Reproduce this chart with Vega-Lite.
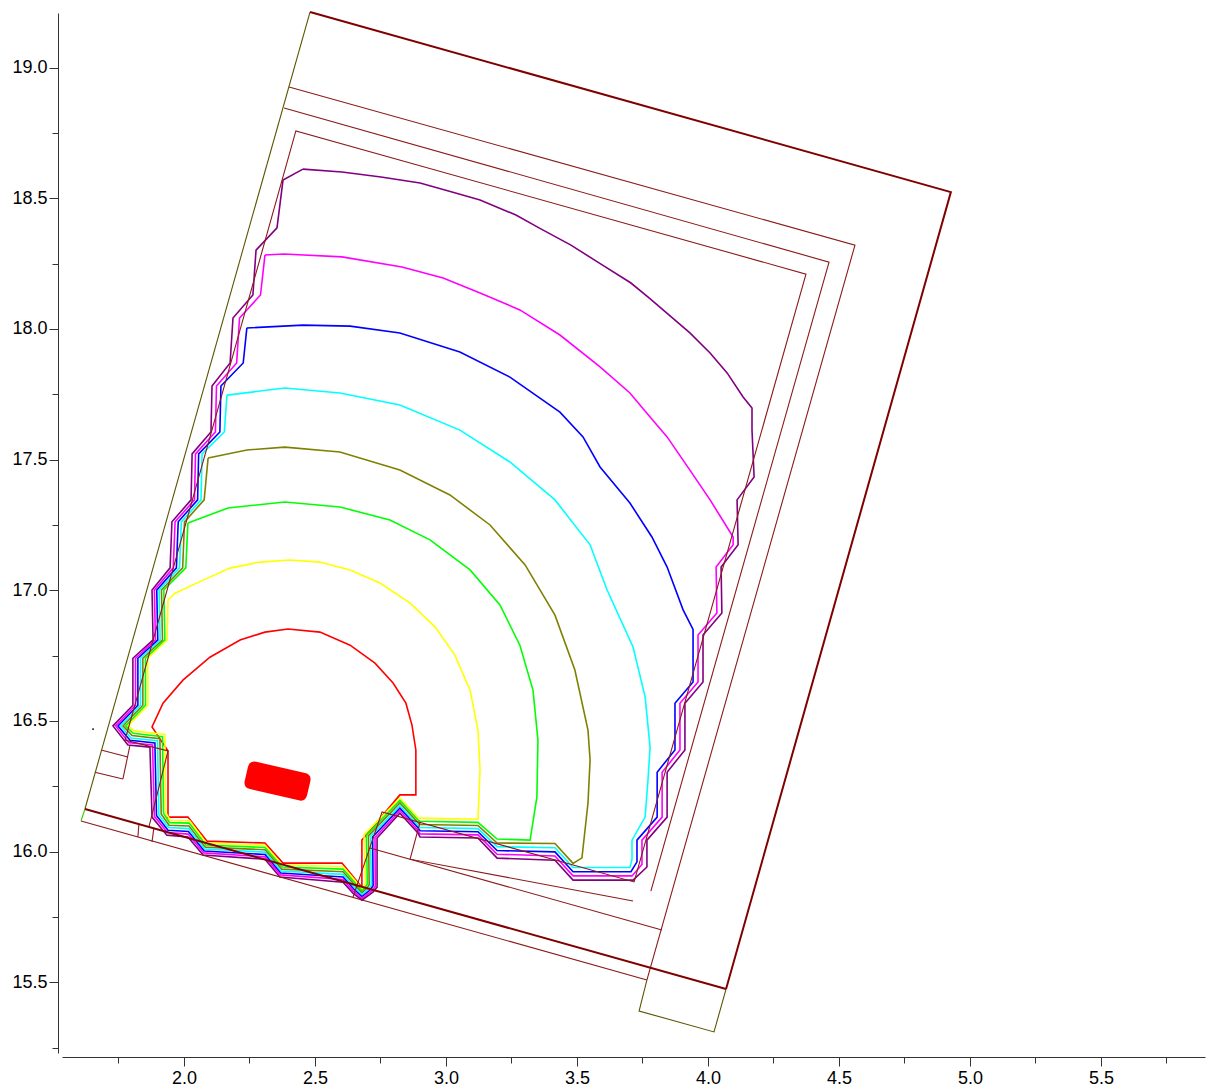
{
  "$schema": "https://vega.github.io/schema/vega-lite/v6.json",
  "width": 1143,
  "height": 1040,
  "autosize": "none",
  "padding": {"left": 62, "top": 13, "right": 5, "bottom": 37},
  "background": "white",
  "config": {
    "view": {"stroke": null},
    "axis": {"grid": false, "title": null, "domainColor": "#333333", "tickColor": "#333333", "labelColor": "#000000", "labelFont": "Liberation Sans", "labelFontSize": 18, "domainWidth": 1, "tickWidth": 1}
  },
  "datasets": {
    "contours": [
      {"c":"red","x":2.679,"y":15.864},{"c":"red","x":2.603,"y":15.956},{"c":"red","x":2.378,"y":15.956},{"c":"red","x":2.309,"y":16.033},{"c":"red","x":2.088,"y":16.040},{"c":"red","x":2.015,"y":16.132},{"c":"red","x":1.939,"y":16.132},{"c":"red","x":1.939,"y":16.385},{"c":"red","x":1.878,"y":16.477},{"c":"red","x":1.920,"y":16.568},{"c":"red","x":1.996,"y":16.656},{"c":"red","x":2.099,"y":16.744},{"c":"red","x":2.214,"y":16.810},{"c":"red","x":2.309,"y":16.840},{"c":"red","x":2.397,"y":16.852},{"c":"red","x":2.519,"y":16.840},{"c":"red","x":2.634,"y":16.790},{"c":"red","x":2.729,"y":16.721},{"c":"red","x":2.798,"y":16.645},{"c":"red","x":2.847,"y":16.568},{"c":"red","x":2.870,"y":16.485},{"c":"red","x":2.885,"y":16.389},{"c":"red","x":2.885,"y":16.217},{"c":"red","x":2.824,"y":16.217},{"c":"red","x":2.679,"y":16.044},{"c":"red","x":2.679,"y":15.864},

      {"c":"yellow","x":2.073,"y":17.039},{"c":"yellow","x":1.966,"y":16.989},{"c":"yellow","x":1.939,"y":16.963},{"c":"yellow","x":1.936,"y":16.810},{"c":"yellow","x":1.862,"y":16.740},{"c":"yellow","x":1.862,"y":16.560},{"c":"yellow","x":1.786,"y":16.481},{"c":"yellow","x":1.810,"y":16.462},{"c":"yellow","x":1.927,"y":16.448},{"c":"yellow","x":1.930,"y":16.150},{"c":"yellow","x":1.947,"y":16.120},{"c":"yellow","x":2.021,"y":16.119},{"c":"yellow","x":2.085,"y":16.033},{"c":"yellow","x":2.309,"y":16.024},{"c":"yellow","x":2.376,"y":15.949},{"c":"yellow","x":2.607,"y":15.943},{"c":"yellow","x":2.651,"y":15.892},{"c":"yellow","x":2.679,"y":15.857},{"c":"yellow","x":2.685,"y":15.867},{"c":"yellow","x":2.693,"y":15.878},{"c":"yellow","x":2.687,"y":16.064},{"c":"yellow","x":2.824,"y":16.205},{"c":"yellow","x":2.893,"y":16.131},{"c":"yellow","x":2.901,"y":16.128},{"c":"yellow","x":3.122,"y":16.124},{"c":"yellow","x":3.130,"y":16.312},{"c":"yellow","x":3.122,"y":16.465},{"c":"yellow","x":3.092,"y":16.618},{"c":"yellow","x":3.034,"y":16.752},{"c":"yellow","x":2.958,"y":16.860},{"c":"yellow","x":2.863,"y":16.951},{"c":"yellow","x":2.748,"y":17.028},{"c":"yellow","x":2.634,"y":17.078},{"c":"yellow","x":2.519,"y":17.108},{"c":"yellow","x":2.405,"y":17.116},{"c":"yellow","x":2.290,"y":17.108},{"c":"yellow","x":2.176,"y":17.085},{"c":"yellow","x":2.073,"y":17.039},

      {"c":"green","x":2.015,"y":17.258},{"c":"green","x":2.007,"y":17.086},{"c":"green","x":1.923,"y":17.001},{"c":"green","x":1.927,"y":16.810},{"c":"green","x":1.853,"y":16.740},{"c":"green","x":1.853,"y":16.560},{"c":"green","x":1.777,"y":16.481},{"c":"green","x":1.806,"y":16.453},{"c":"green","x":1.918,"y":16.440},{"c":"green","x":1.922,"y":16.147},{"c":"green","x":1.945,"y":16.111},{"c":"green","x":2.020,"y":16.109},{"c":"green","x":2.083,"y":16.025},{"c":"green","x":2.309,"y":16.016},{"c":"green","x":2.375,"y":15.941},{"c":"green","x":2.607,"y":15.933},{"c":"green","x":2.650,"y":15.884},{"c":"green","x":2.679,"y":15.850},{"c":"green","x":2.691,"y":15.863},{"c":"green","x":2.700,"y":15.876},{"c":"green","x":2.696,"y":16.062},{"c":"green","x":2.824,"y":16.196},{"c":"green","x":2.893,"y":16.121},{"c":"green","x":2.901,"y":16.116},{"c":"green","x":3.122,"y":16.112},{"c":"green","x":3.195,"y":16.048},{"c":"green","x":3.321,"y":16.044},{"c":"green","x":3.347,"y":16.209},{"c":"green","x":3.351,"y":16.427},{"c":"green","x":3.332,"y":16.618},{"c":"green","x":3.282,"y":16.790},{"c":"green","x":3.206,"y":16.944},{"c":"green","x":3.092,"y":17.078},{"c":"green","x":2.939,"y":17.193},{"c":"green","x":2.786,"y":17.269},{"c":"green","x":2.595,"y":17.319},{"c":"green","x":2.385,"y":17.338},{"c":"green","x":2.168,"y":17.315},{"c":"green","x":2.015,"y":17.258},

      {"c":"olive","x":2.092,"y":17.506},{"c":"olive","x":2.077,"y":17.346},{"c":"olive","x":2.002,"y":17.262},{"c":"olive","x":1.995,"y":17.086},{"c":"olive","x":1.914,"y":17.001},{"c":"olive","x":1.918,"y":16.810},{"c":"olive","x":1.843,"y":16.740},{"c":"olive","x":1.843,"y":16.560},{"c":"olive","x":1.767,"y":16.481},{"c":"olive","x":1.802,"y":16.444},{"c":"olive","x":1.908,"y":16.432},{"c":"olive","x":1.913,"y":16.144},{"c":"olive","x":1.943,"y":16.101},{"c":"olive","x":2.019,"y":16.098},{"c":"olive","x":2.081,"y":16.017},{"c":"olive","x":2.309,"y":16.007},{"c":"olive","x":2.373,"y":15.933},{"c":"olive","x":2.607,"y":15.923},{"c":"olive","x":2.649,"y":15.875},{"c":"olive","x":2.679,"y":15.842},{"c":"olive","x":2.697,"y":15.859},{"c":"olive","x":2.707,"y":15.873},{"c":"olive","x":2.704,"y":16.060},{"c":"olive","x":2.824,"y":16.186},{"c":"olive","x":2.893,"y":16.111},{"c":"olive","x":2.901,"y":16.104},{"c":"olive","x":3.122,"y":16.100},{"c":"olive","x":3.195,"y":16.033},{"c":"olive","x":3.416,"y":16.031},{"c":"olive","x":3.485,"y":15.955},{"c":"olive","x":3.519,"y":15.976},{"c":"olive","x":3.542,"y":16.186},{"c":"olive","x":3.550,"y":16.351},{"c":"olive","x":3.542,"y":16.465},{"c":"olive","x":3.492,"y":16.695},{"c":"olive","x":3.416,"y":16.905},{"c":"olive","x":3.302,"y":17.097},{"c":"olive","x":3.168,"y":17.250},{"c":"olive","x":3.015,"y":17.365},{"c":"olive","x":2.824,"y":17.460},{"c":"olive","x":2.595,"y":17.529},{"c":"olive","x":2.385,"y":17.548},{"c":"olive","x":2.240,"y":17.537},{"c":"olive","x":2.092,"y":17.506},

      {"c":"cyan","x":2.164,"y":17.747},{"c":"cyan","x":2.154,"y":17.606},{"c":"cyan","x":2.069,"y":17.522},{"c":"cyan","x":2.065,"y":17.346},{"c":"cyan","x":1.990,"y":17.262},{"c":"cyan","x":1.983,"y":17.086},{"c":"cyan","x":1.905,"y":17.001},{"c":"cyan","x":1.909,"y":16.810},{"c":"cyan","x":1.834,"y":16.740},{"c":"cyan","x":1.834,"y":16.560},{"c":"cyan","x":1.758,"y":16.481},{"c":"cyan","x":1.798,"y":16.435},{"c":"cyan","x":1.899,"y":16.424},{"c":"cyan","x":1.904,"y":16.141},{"c":"cyan","x":1.941,"y":16.092},{"c":"cyan","x":2.018,"y":16.088},{"c":"cyan","x":2.079,"y":16.010},{"c":"cyan","x":2.309,"y":15.998},{"c":"cyan","x":2.371,"y":15.926},{"c":"cyan","x":2.607,"y":15.913},{"c":"cyan","x":2.648,"y":15.867},{"c":"cyan","x":2.679,"y":15.835},{"c":"cyan","x":2.703,"y":15.856},{"c":"cyan","x":2.715,"y":15.871},{"c":"cyan","x":2.712,"y":16.058},{"c":"cyan","x":2.824,"y":16.176},{"c":"cyan","x":2.893,"y":16.101},{"c":"cyan","x":2.901,"y":16.092},{"c":"cyan","x":3.122,"y":16.088},{"c":"cyan","x":3.195,"y":16.019},{"c":"cyan","x":3.416,"y":16.015},{"c":"cyan","x":3.485,"y":15.939},{"c":"cyan","x":3.702,"y":15.939},{"c":"cyan","x":3.710,"y":15.971},{"c":"cyan","x":3.710,"y":16.044},{"c":"cyan","x":3.760,"y":16.132},{"c":"cyan","x":3.771,"y":16.274},{"c":"cyan","x":3.779,"y":16.400},{"c":"cyan","x":3.760,"y":16.592},{"c":"cyan","x":3.714,"y":16.783},{"c":"cyan","x":3.615,"y":17.001},{"c":"cyan","x":3.550,"y":17.174},{"c":"cyan","x":3.416,"y":17.346},{"c":"cyan","x":3.244,"y":17.491},{"c":"cyan","x":3.053,"y":17.613},{"c":"cyan","x":2.824,"y":17.709},{"c":"cyan","x":2.595,"y":17.755},{"c":"cyan","x":2.385,"y":17.774},{"c":"cyan","x":2.164,"y":17.747},

      {"c":"blue","x":2.240,"y":18.004},{"c":"blue","x":2.226,"y":17.870},{"c":"blue","x":2.141,"y":17.782},{"c":"blue","x":2.137,"y":17.606},{"c":"blue","x":2.056,"y":17.522},{"c":"blue","x":2.052,"y":17.346},{"c":"blue","x":1.978,"y":17.262},{"c":"blue","x":1.971,"y":17.086},{"c":"blue","x":1.896,"y":17.001},{"c":"blue","x":1.900,"y":16.810},{"c":"blue","x":1.824,"y":16.740},{"c":"blue","x":1.824,"y":16.560},{"c":"blue","x":1.748,"y":16.481},{"c":"blue","x":1.794,"y":16.426},{"c":"blue","x":1.889,"y":16.416},{"c":"blue","x":1.895,"y":16.138},{"c":"blue","x":1.939,"y":16.082},{"c":"blue","x":2.017,"y":16.077},{"c":"blue","x":2.077,"y":16.002},{"c":"blue","x":2.309,"y":15.989},{"c":"blue","x":2.369,"y":15.918},{"c":"blue","x":2.607,"y":15.903},{"c":"blue","x":2.647,"y":15.858},{"c":"blue","x":2.679,"y":15.828},{"c":"blue","x":2.709,"y":15.852},{"c":"blue","x":2.722,"y":15.869},{"c":"blue","x":2.720,"y":16.056},{"c":"blue","x":2.824,"y":16.166},{"c":"blue","x":2.893,"y":16.091},{"c":"blue","x":2.901,"y":16.080},{"c":"blue","x":3.122,"y":16.076},{"c":"blue","x":3.195,"y":16.004},{"c":"blue","x":3.416,"y":15.999},{"c":"blue","x":3.485,"y":15.923},{"c":"blue","x":3.706,"y":15.923},{"c":"blue","x":3.729,"y":15.961},{"c":"blue","x":3.729,"y":16.044},{"c":"blue","x":3.806,"y":16.132},{"c":"blue","x":3.806,"y":16.304},{"c":"blue","x":3.874,"y":16.389},{"c":"blue","x":3.874,"y":16.568},{"c":"blue","x":3.943,"y":16.649},{"c":"blue","x":3.943,"y":16.850},{"c":"blue","x":3.905,"y":16.925},{"c":"blue","x":3.844,"y":17.089},{"c":"blue","x":3.786,"y":17.204},{"c":"blue","x":3.702,"y":17.334},{"c":"blue","x":3.588,"y":17.472},{"c":"blue","x":3.523,"y":17.587},{"c":"blue","x":3.435,"y":17.682},{"c":"blue","x":3.244,"y":17.816},{"c":"blue","x":3.053,"y":17.912},{"c":"blue","x":2.824,"y":17.985},{"c":"blue","x":2.634,"y":18.011},{"c":"blue","x":2.454,"y":18.015},{"c":"blue","x":2.240,"y":18.004},

      {"c":"magenta","x":2.309,"y":18.283},{"c":"magenta","x":2.292,"y":18.130},{"c":"magenta","x":2.212,"y":18.042},{"c":"magenta","x":2.201,"y":17.870},{"c":"magenta","x":2.124,"y":17.782},{"c":"magenta","x":2.120,"y":17.606},{"c":"magenta","x":2.044,"y":17.522},{"c":"magenta","x":2.040,"y":17.346},{"c":"magenta","x":1.966,"y":17.262},{"c":"magenta","x":1.959,"y":17.086},{"c":"magenta","x":1.887,"y":17.001},{"c":"magenta","x":1.891,"y":16.810},{"c":"magenta","x":1.815,"y":16.740},{"c":"magenta","x":1.815,"y":16.560},{"c":"magenta","x":1.739,"y":16.481},{"c":"magenta","x":1.790,"y":16.417},{"c":"magenta","x":1.880,"y":16.408},{"c":"magenta","x":1.887,"y":16.135},{"c":"magenta","x":1.937,"y":16.073},{"c":"magenta","x":2.016,"y":16.067},{"c":"magenta","x":2.075,"y":15.995},{"c":"magenta","x":2.309,"y":15.980},{"c":"magenta","x":2.368,"y":15.911},{"c":"magenta","x":2.607,"y":15.893},{"c":"magenta","x":2.646,"y":15.850},{"c":"magenta","x":2.679,"y":15.821},{"c":"magenta","x":2.715,"y":15.849},{"c":"magenta","x":2.730,"y":15.866},{"c":"magenta","x":2.729,"y":16.054},{"c":"magenta","x":2.824,"y":16.157},{"c":"magenta","x":2.893,"y":16.081},{"c":"magenta","x":2.901,"y":16.068},{"c":"magenta","x":3.122,"y":16.064},{"c":"magenta","x":3.195,"y":15.990},{"c":"magenta","x":3.416,"y":15.983},{"c":"magenta","x":3.485,"y":15.907},{"c":"magenta","x":3.710,"y":15.907},{"c":"magenta","x":3.748,"y":15.951},{"c":"magenta","x":3.748,"y":16.044},{"c":"magenta","x":3.825,"y":16.132},{"c":"magenta","x":3.825,"y":16.304},{"c":"magenta","x":3.893,"y":16.389},{"c":"magenta","x":3.893,"y":16.568},{"c":"magenta","x":3.962,"y":16.649},{"c":"magenta","x":3.962,"y":16.829},{"c":"magenta","x":4.034,"y":16.913},{"c":"magenta","x":4.031,"y":17.089},{"c":"magenta","x":4.096,"y":17.174},{"c":"magenta","x":4.096,"y":17.204},{"c":"magenta","x":4.008,"y":17.346},{"c":"magenta","x":3.931,"y":17.460},{"c":"magenta","x":3.844,"y":17.587},{"c":"magenta","x":3.779,"y":17.663},{"c":"magenta","x":3.702,"y":17.755},{"c":"magenta","x":3.588,"y":17.855},{"c":"magenta","x":3.435,"y":17.977},{"c":"magenta","x":3.282,"y":18.073},{"c":"magenta","x":3.130,"y":18.138},{"c":"magenta","x":2.989,"y":18.195},{"c":"magenta","x":2.832,"y":18.237},{"c":"magenta","x":2.603,"y":18.276},{"c":"magenta","x":2.382,"y":18.287},{"c":"magenta","x":2.309,"y":18.283},

      {"c":"purple","x":2.454,"y":18.612},{"c":"purple","x":2.378,"y":18.570},{"c":"purple","x":2.355,"y":18.387},{"c":"purple","x":2.275,"y":18.302},{"c":"purple","x":2.263,"y":18.130},{"c":"purple","x":2.187,"y":18.042},{"c":"purple","x":2.176,"y":17.870},{"c":"purple","x":2.107,"y":17.782},{"c":"purple","x":2.103,"y":17.606},{"c":"purple","x":2.031,"y":17.522},{"c":"purple","x":2.027,"y":17.346},{"c":"purple","x":1.954,"y":17.262},{"c":"purple","x":1.947,"y":17.086},{"c":"purple","x":1.878,"y":17.001},{"c":"purple","x":1.882,"y":16.810},{"c":"purple","x":1.805,"y":16.740},{"c":"purple","x":1.805,"y":16.560},{"c":"purple","x":1.729,"y":16.481},{"c":"purple","x":1.786,"y":16.408},{"c":"purple","x":1.870,"y":16.400},{"c":"purple","x":1.878,"y":16.132},{"c":"purple","x":1.935,"y":16.063},{"c":"purple","x":2.015,"y":16.056},{"c":"purple","x":2.073,"y":15.987},{"c":"purple","x":2.309,"y":15.971},{"c":"purple","x":2.366,"y":15.903},{"c":"purple","x":2.607,"y":15.883},{"c":"purple","x":2.645,"y":15.841},{"c":"purple","x":2.679,"y":15.814},{"c":"purple","x":2.721,"y":15.845},{"c":"purple","x":2.737,"y":15.864},{"c":"purple","x":2.737,"y":16.052},{"c":"purple","x":2.824,"y":16.147},{"c":"purple","x":2.893,"y":16.071},{"c":"purple","x":2.901,"y":16.056},{"c":"purple","x":3.122,"y":16.052},{"c":"purple","x":3.195,"y":15.975},{"c":"purple","x":3.416,"y":15.967},{"c":"purple","x":3.485,"y":15.891},{"c":"purple","x":3.714,"y":15.891},{"c":"purple","x":3.767,"y":15.941},{"c":"purple","x":3.767,"y":16.044},{"c":"purple","x":3.844,"y":16.132},{"c":"purple","x":3.844,"y":16.304},{"c":"purple","x":3.912,"y":16.389},{"c":"purple","x":3.912,"y":16.568},{"c":"purple","x":3.981,"y":16.649},{"c":"purple","x":3.981,"y":16.829},{"c":"purple","x":4.053,"y":16.913},{"c":"purple","x":4.050,"y":17.089},{"c":"purple","x":4.115,"y":17.174},{"c":"purple","x":4.111,"y":17.346},{"c":"purple","x":4.176,"y":17.434},{"c":"purple","x":4.168,"y":17.613},{"c":"purple","x":4.168,"y":17.698},{"c":"purple","x":4.134,"y":17.740},{"c":"purple","x":4.073,"y":17.832},{"c":"purple","x":4.008,"y":17.908},{"c":"purple","x":3.931,"y":17.985},{"c":"purple","x":3.775,"y":18.119},{"c":"purple","x":3.706,"y":18.176},{"c":"purple","x":3.584,"y":18.253},{"c":"purple","x":3.477,"y":18.321},{"c":"purple","x":3.355,"y":18.387},{"c":"purple","x":3.267,"y":18.436},{"c":"purple","x":3.130,"y":18.494},{"c":"purple","x":3.023,"y":18.524},{"c":"purple","x":2.901,"y":18.559},{"c":"purple","x":2.752,"y":18.582},{"c":"purple","x":2.603,"y":18.601},{"c":"purple","x":2.454,"y":18.612}
    ],
    "thin": [
      {"g":"L1","x":2.401,"y":18.926},{"g":"L1","x":4.561,"y":18.321},{"g":"L1","x":3.767,"y":15.509},
      {"g":"L2","x":2.382,"y":18.846},{"g":"L2","x":4.462,"y":18.256},{"g":"L2","x":3.782,"y":15.849},
      {"g":"L3","x":1.866,"y":16.094},{"g":"L3","x":1.939,"y":16.385},{"g":"L3","x":1.775,"y":16.427},{"g":"L3","x":2.427,"y":18.758},{"g":"L3","x":4.374,"y":18.210},{"g":"L3","x":3.718,"y":15.884},{"g":"L3","x":2.756,"y":16.152},{"g":"L3","x":2.645,"y":15.826},
      {"g":"Hc","x":2.710,"y":16.014},{"g":"Hc","x":3.824,"y":15.700},
      {"g":"Hb","x":2.901,"y":16.113},{"g":"Hb","x":2.863,"y":15.971},{"g":"Hb","x":3.714,"y":15.811},
      {"g":"b1","x":1.683,"y":16.389},{"g":"b1","x":1.786,"y":16.362},
      {"g":"b2","x":1.660,"y":16.304},{"g":"b2","x":1.767,"y":16.278},
      {"g":"b3","x":1.794,"y":16.408},{"g":"b3","x":1.767,"y":16.278},
      {"g":"d1","x":1.828,"y":16.106},{"g":"d1","x":1.824,"y":16.056},
      {"g":"d2","x":1.885,"y":16.090},{"g":"d2","x":1.878,"y":16.037},
      {"g":"thinwall","x":1.607,"y":16.117},{"g":"thinwall","x":3.767,"y":15.509}
    ],
    "thick": [
      {"g":"outer","x":2.481,"y":19.213},{"g":"outer","x":4.927,"y":18.524},{"g":"outer","x":4.069,"y":15.474},
      {"g":"bot","x":1.622,"y":16.163},{"g":"bot","x":4.069,"y":15.474}
    ],
    "olive": [
      {"g":"left","x":1.622,"y":16.163},{"g":"left","x":2.481,"y":19.213},
      {"g":"box","x":3.767,"y":15.509},{"g":"box","x":3.737,"y":15.390},{"g":"box","x":4.023,"y":15.310},{"g":"box","x":4.069,"y":15.474}
    ],
    "greenedge": [
      {"g":"ge","x":1.607,"y":16.117},{"g":"ge","x":1.622,"y":16.163}
    ]
  },
  "layer": [
    {
      "data": {"name": "contours"},
      "mark": {"type": "line", "strokeWidth": 1.6},
      "encoding": {
        "x": {"field": "x", "type": "quantitative",
          "scale": {"domain": [1.5344, 5.897], "nice": false, "zero": false},
          "axis": {
            "values": [1.75, 2, 2.25, 2.5, 2.75, 3, 3.25, 3.5, 3.75, 4, 4.25, 4.5, 4.75, 5, 5.25, 5.5, 5.75],
            "labelExpr": "abs(datum.value*2-round(datum.value*2))<0.001 ? format(datum.value,'.1f') : ''",
            "tickSize": {"condition": {"test": "abs(datum.value*2-round(datum.value*2))<0.001", "value": 9}, "value": 6},
            "offset": 4, "labelPadding": 3, "labelOverlap": false, "labelFlush": false
          }},
        "y": {"field": "y", "type": "quantitative",
          "scale": {"domain": [15.2293, 19.2093], "nice": false, "zero": false},
          "axis": {
            "values": [15.25, 15.5, 15.75, 16, 16.25, 16.5, 16.75, 17, 17.25, 17.5, 17.75, 18, 18.25, 18.5, 18.75, 19],
            "labelExpr": "abs(datum.value*2-round(datum.value*2))<0.001 ? format(datum.value,'.1f') : ''",
            "tickSize": {"condition": {"test": "abs(datum.value*2-round(datum.value*2))<0.001", "value": 9}, "value": 6},
            "offset": 4, "labelPadding": 2, "labelOverlap": false, "labelFlush": false
          }},
        "color": {"field": "c", "type": "nominal",
          "scale": {"domain": ["red", "yellow", "green", "olive", "cyan", "blue", "magenta", "purple"],
                    "range": ["#ff0000", "#ffff00", "#00ff00", "#808000", "#00ffff", "#0000ff", "#ff00ff", "#800080"]},
          "legend": null},
        "detail": {"field": "c"},
        "order": {"value": null}
      }
    },
    {
      "data": {"name": "thin"},
      "mark": {"type": "line", "strokeWidth": 1.1, "color": "#8b1a1a"},
      "encoding": {
        "x": {"field": "x", "type": "quantitative"},
        "y": {"field": "y", "type": "quantitative"},
        "detail": {"field": "g"},
        "order": {"value": null}
      }
    },
    {
      "data": {"name": "olive"},
      "mark": {"type": "line", "strokeWidth": 1.1, "color": "#5c5400"},
      "encoding": {
        "x": {"field": "x", "type": "quantitative"},
        "y": {"field": "y", "type": "quantitative"},
        "detail": {"field": "g"},
        "order": {"value": null}
      }
    },
    {
      "data": {"name": "greenedge"},
      "mark": {"type": "line", "strokeWidth": 1.1, "color": "#33cc00"},
      "encoding": {
        "x": {"field": "x", "type": "quantitative"},
        "y": {"field": "y", "type": "quantitative"},
        "detail": {"field": "g"},
        "order": {"value": null}
      }
    },
    {
      "data": {"name": "thick"},
      "mark": {"type": "line", "strokeWidth": 2, "color": "#800000"},
      "encoding": {
        "x": {"field": "x", "type": "quantitative"},
        "y": {"field": "y", "type": "quantitative"},
        "detail": {"field": "g"},
        "order": {"value": null}
      }
    },
    {
      "data": {"values": [{"x": 1.653, "y": 16.469}]},
      "mark": {"type": "square", "size": 3, "color": "#333333", "opacity": 1},
      "encoding": {
        "x": {"field": "x", "type": "quantitative"},
        "y": {"field": "y", "type": "quantitative"}
      }
    },
    {
      "data": {"values": [{"x": 2.357, "y": 16.270}]},
      "mark": {"type": "point", "shape": "M -0.606,-0.551 L 0.786,-0.229 Q 0.981,-0.184 0.936,0.011 L 0.846,0.401 Q 0.801,0.595 0.606,0.551 L -0.786,0.229 Q -0.981,0.184 -0.936,-0.011 L -0.846,-0.401 Q -0.801,-0.595 -0.606,-0.551 Z", "filled": true, "size": 4900, "color": "#ff0000", "opacity": 1, "strokeWidth": 0},
      "encoding": {
        "x": {"field": "x", "type": "quantitative"},
        "y": {"field": "y", "type": "quantitative"}
      }
    }
  ]
}
